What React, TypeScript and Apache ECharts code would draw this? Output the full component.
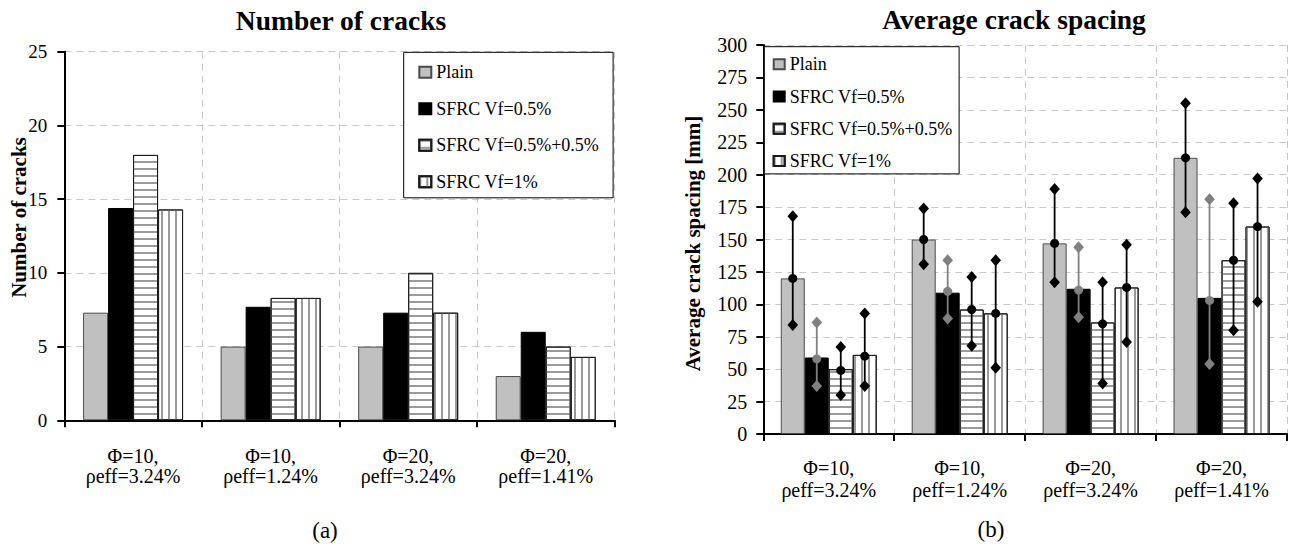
import React, { useEffect, useRef } from 'react';
import * as echarts from 'echarts';

// ---------- data ----------
const categories = ['Φ=10,\nρeff=3.24%', 'Φ=10,\nρeff=1.24%', 'Φ=20,\nρeff=3.24%', 'Φ=20,\nρeff=1.41%'];
const seriesNames = ['Plain', 'SFRC Vf=0.5%', 'SFRC Vf=0.5%+0.5%', 'SFRC Vf=1%'];

// (a) Number of cracks
const cracksPlain = [7.3, 5, 5, 3];
const cracksSfrc05 = [14.4, 7.7, 7.3, 6];
const cracksSfrc0505 = [18, 8.3, 10, 5];
const cracksSfrc1 = [14.3, 8.3, 7.3, 4.3];
const cracksAxis = { min: 0, max: 25, interval: 5 };

// (b) Average crack spacing [mm]
const spacingPlain = [120, 150, 147, 213];
const spacingSfrc05 = [59, 109, 112, 105];
const spacingSfrc0505 = [50, 96, 86, 134];
const spacingSfrc1 = [61, 93, 113, 160];

const spacingPlainMax = [168, 174, 189, 255];
const spacingSfrc05Max = [86, 134, 144, 181];
const spacingSfrc0505Max = [67, 121, 117, 178];
const spacingSfrc1Max = [93, 134, 146, 197];

const spacingPlainMin = [84, 131, 117, 171];
const spacingSfrc05Min = [37, 89, 90, 54];
const spacingSfrc0505Min = [30, 68, 39, 80];
const spacingSfrc1Min = [37, 51, 71, 102];

const spacingPlainMean = [120, 150, 147, 213];
const spacingSfrc05Mean = [58, 110, 111, 103];
const spacingSfrc0505Mean = [49, 96, 85, 134];
const spacingSfrc1Mean = [60, 93, 113, 160];
const spacingAxis = { min: 0, max: 300, interval: 25 };

const titles = ['Number of cracks', 'Average crack spacing'];
const yNames = ['Number of cracks', 'Average crack spacing [mm]'];
const captions = ['(a)', '(b)'];

// ---------- styles ----------
const FONT = 'Liberation Serif';
const BAR_W_L = 25;
const BAR_W_R = 24;

const itemStyles: any[] = [
  { color: '#c0c0c0', borderColor: '#4a4a4a', borderWidth: 1 },
  { color: '#000000', borderColor: '#000000', borderWidth: 1 },
  {
    color: '#ffffff', borderColor: '#1a1a1a', borderWidth: 1,
    decal: { symbol: 'rect', symbolSize: 1, dashArrayX: [[8, 0]], dashArrayY: [2, 5], color: '#9a9a9a' },
  },
  {
    color: '#ffffff', borderColor: '#1a1a1a', borderWidth: 1,
    decal: { symbol: 'rect', symbolSize: 1, dashArrayX: [[2, 5]], dashArrayY: [8, 0], color: '#9a9a9a' },
  },
];
const errColors = ['#000000', '#808080', '#000000', '#000000'];

export default function App() {
  const ref = useRef<HTMLDivElement>(null);

  useEffect(() => {
    if (!ref.current) return;
    const chart = echarts.init(ref.current, undefined, { renderer: 'svg' });

    const cracks = [cracksPlain, cracksSfrc05, cracksSfrc0505, cracksSfrc1];
    const spacing = [spacingPlain, spacingSfrc05, spacingSfrc0505, spacingSfrc1];
    const sMax = [spacingPlainMax, spacingSfrc05Max, spacingSfrc0505Max, spacingSfrc1Max];
    const sMin = [spacingPlainMin, spacingSfrc05Min, spacingSfrc0505Min, spacingSfrc1Min];
    const sMean = [spacingPlainMean, spacingSfrc05Mean, spacingSfrc0505Mean, spacingSfrc1Mean];

    const gridLine = { show: true, lineStyle: { color: '#c8c8c8', width: 1, type: [7, 5] } };
    const axisLineStyle = { show: true, lineStyle: { color: '#000', width: 2 } };
    const tickStyle = { show: true, length: 7, inside: false, lineStyle: { color: '#000', width: 2 } };

    const makeX = (gridIndex: number, margin: number, lh: number) => ({
      type: 'category',
      gridIndex,
      data: categories,
      axisLine: axisLineStyle,
      axisTick: { ...tickStyle, alignWithLabel: false },
      splitLine: gridLine,
      axisLabel: { interval: 0, margin, color: '#000', fontFamily: FONT, fontSize: 20, lineHeight: lh },
    });

    const makeY = (gridIndex: number, ax: any, fs: number, margin: number) => ({
      type: 'value',
      gridIndex,
      min: ax.min,
      max: ax.max,
      interval: ax.interval,
      axisLine: axisLineStyle,
      axisTick: tickStyle,
      splitLine: gridLine,
      axisLabel: { margin, color: '#000', fontFamily: FONT, fontSize: fs },
    });

    const barSeries: any[] = [];
    seriesNames.forEach((n, k) => {
      barSeries.push({
        type: 'bar', name: n, xAxisIndex: 0, yAxisIndex: 0,
        data: cracks[k], barWidth: BAR_W_L, barGap: '0%', itemStyle: itemStyles[k],
      });
    });
    seriesNames.forEach((n, k) => {
      barSeries.push({
        type: 'bar', name: n, xAxisIndex: 1, yAxisIndex: 1,
        data: spacing[k], barWidth: BAR_W_R, barGap: '0%', itemStyle: itemStyles[k],
      });
    });

    const errSeries = seriesNames.map((_, k) => ({
      type: 'custom',
      xAxisIndex: 1,
      yAxisIndex: 1,
      z: 5,
      silent: true,
      encode: { x: 0, y: [1, 2, 3] },
      data: categories.map((_c, i) => [i, sMin[k][i], sMax[k][i], sMean[k][i]]),
      renderItem: (_params: any, api: any) => {
        const i = api.value(0);
        const lo = api.coord([i, api.value(1)]);
        const hi = api.coord([i, api.value(2)]);
        const mid = api.coord([i, api.value(3)]);
        const x = lo[0] + (k - 1.5) * BAR_W_R;
        const col = errColors[k];
        const diamond = (y: number) => ({
          type: 'polygon',
          shape: { points: [[x, y - 6], [x + 5.3, y], [x, y + 6], [x - 5.3, y]] },
          style: { fill: col },
        });
        return {
          type: 'group',
          children: [
            { type: 'line', shape: { x1: x, y1: hi[1], x2: x, y2: lo[1] }, style: { stroke: col, lineWidth: 1.8 } },
            diamond(hi[1]),
            diamond(lo[1]),
            { type: 'circle', shape: { cx: x, cy: mid[1], r: 4.5 }, style: { fill: col } },
          ],
        };
      },
    }));

    const legendBase = {
      orient: 'vertical',
      data: seriesNames,
      backgroundColor: '#ffffff',
      borderColor: '#000000',
      borderWidth: 1,
      icon: 'rect',
      selectedMode: false,
      textStyle: { fontFamily: FONT, fontSize: 18, color: '#000', lineHeight: 18 },
    };

    const txt = (text: string, x: number, y: number, size: number, weight: string, rotation = 0) => ({
      type: 'text',
      x,
      y,
      rotation,
      style: {
        text,
        fontFamily: FONT,
        fontSize: size,
        fontWeight: weight,
        fill: '#000',
        align: 'center',
        verticalAlign: 'middle',
        textAlign: 'center',
        textVerticalAlign: 'middle',
      },
    });

    chart.setOption({
      animation: false,
      backgroundColor: '#ffffff',
      textStyle: { fontFamily: FONT },
      grid: [
        { left: 64.3, top: 51.7, width: 550.2, height: 368.6 },
        { left: 763.3, top: 45, width: 523.7, height: 389 },
      ],
      xAxis: [makeX(0, 26, 20), makeX(1, 23, 22)],
      yAxis: [makeY(0, cracksAxis, 19, 17), makeY(1, spacingAxis, 20, 16)],
      legend: [
        {
          ...legendBase,
          left: 403.7, top: 52.3,
          padding: [11, 14, 7, 14.6],
          itemGap: 18.5,
          itemWidth: 12, itemHeight: 11,
        },
        {
          ...legendBase,
          left: 764.3, top: 46.7,
          padding: [8.6, 6.6, 4, 8.4],
          itemGap: 14.2,
          itemWidth: 11, itemHeight: 10,
        },
      ],
      graphic: [
        txt(titles[0], 341, 20, 27.5, 'bold'),
        txt(titles[1], 1014, 19, 27.5, 'bold'),
        txt(yNames[0], 18.7, 217.5, 21, 'bold', Math.PI / 2),
        txt(yNames[1], 693.4, 243.5, 21, 'bold', Math.PI / 2),
        txt(captions[0], 325, 530, 23, 'normal'),
        txt(captions[1], 991, 529, 23, 'normal'),
      ],
      series: [...barSeries, ...errSeries],
    });

    return () => chart.dispose();
  }, []);

  return (
    <div
      ref={ref}
      style={{ position: 'absolute', left: 0, top: 0, width: 1289, height: 546, background: '#fff' }}
    />
  );
}
